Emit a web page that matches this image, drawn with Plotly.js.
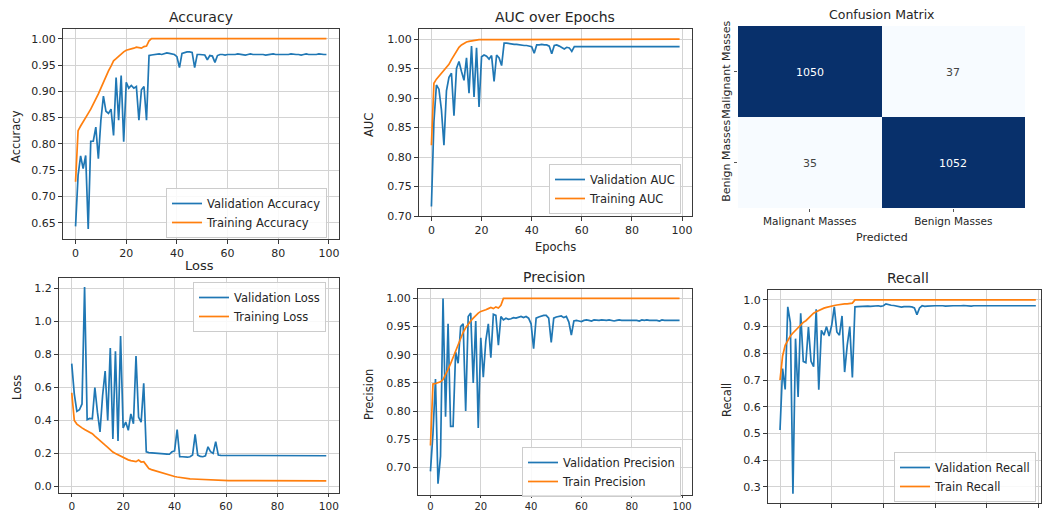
<!DOCTYPE html>
<html>
<head>
<meta charset="utf-8">
<script src="https://cdn.plot.ly/plotly-3.0.1.min.js"></script>
<style>html,body{margin:0;padding:0;background:#fff;}#chart{width:1043px;height:513px;}</style>
</head>
<body>
<div id="chart"></div>
<script>
// ---------- DATA ----------
const epochs = Array.from({length: 100}, (_, i) => i);

const accVal = [0.643,0.740,0.777,0.753,0.778,0.638,0.805,0.805,0.832,0.772,
  0.845,0.891,0.862,0.858,0.866,0.816,0.926,0.845,0.930,0.804,
  0.917,0.906,0.911,0.906,0.909,0.845,0.903,0.909,0.845,0.968,
  0.969,0.970,0.971,0.971,0.970,0.972,0.973,0.972,0.971,0.970,
  0.966,0.945,0.972,0.974,0.975,0.975,0.974,0.945,0.970,0.970,
  0.970,0.969,0.960,0.968,0.967,0.955,0.968,0.970,0.970,0.969,
  0.970,0.970,0.969,0.970,0.971,0.970,0.970,0.969,0.970,0.971,
  0.970,0.970,0.971,0.970,0.970,0.969,0.970,0.970,0.971,0.970,
  0.970,0.970,0.969,0.970,0.970,0.971,0.970,0.970,0.970,0.969,
  0.970,0.971,0.970,0.970,0.969,0.970,0.971,0.970,0.970,0.970];
const accTrain = [0.728,0.825,0.834,0.843,0.851,0.858,0.866,0.875,0.885,0.895,
  0.906,0.918,0.929,0.939,0.948,0.958,0.962,0.967,0.971,0.975,
  0.978,0.979,0.980,0.982,0.984,0.983,0.982,0.985,0.986,0.996,
  1.000,1.000,1.000,1.000,1.000,1.000,1.000,1.000,1.000,1.000,
  1.000,1.000,1.000,1.000,1.000,1.000,1.000,1.000,1.000,1.000,
  1.000,1.000,1.000,1.000,1.000,1.000,1.000,1.000,1.000,1.000,
  1.000,1.000,1.000,1.000,1.000,1.000,1.000,1.000,1.000,1.000,
  1.000,1.000,1.000,1.000,1.000,1.000,1.000,1.000,1.000,1.000,
  1.000,1.000,1.000,1.000,1.000,1.000,1.000,1.000,1.000,1.000,
  1.000,1.000,1.000,1.000,1.000,1.000,1.000,1.000,1.000,1.000];

const aucVal = [0.716,0.860,0.922,0.915,0.880,0.820,0.912,0.935,0.942,0.870,
  0.950,0.962,0.945,0.930,0.968,0.908,0.988,0.902,0.985,0.885,
  0.970,0.973,0.971,0.966,0.972,0.928,0.973,0.968,0.955,0.993,
  0.993,0.992,0.992,0.991,0.991,0.990,0.990,0.989,0.989,0.988,
  0.987,0.976,0.990,0.990,0.991,0.990,0.990,0.988,0.975,0.989,
  0.990,0.988,0.985,0.983,0.986,0.985,0.979,0.987,0.987,0.987,
  0.987,0.987,0.987,0.987,0.986,0.987,0.986,0.987,0.987,0.987,
  0.987,0.987,0.986,0.987,0.987,0.987,0.987,0.986,0.987,0.987,
  0.987,0.987,0.987,0.987,0.987,0.986,0.987,0.987,0.987,0.987,
  0.987,0.987,0.987,0.986,0.987,0.987,0.987,0.987,0.987,0.987];
const aucTrain = [0.820,0.925,0.932,0.937,0.942,0.947,0.952,0.957,0.965,0.972,
  0.980,0.986,0.990,0.993,0.995,0.996,0.997,0.998,0.998,0.999,
  0.999,0.999,0.999,0.999,0.999,0.999,0.999,0.999,0.999,1.000,
  1.000,1.000,1.000,1.000,1.000,1.000,1.000,1.000,1.000,1.000,
  1.000,1.000,1.000,1.000,1.000,1.000,1.000,1.000,1.000,1.000,
  1.000,1.000,1.000,1.000,1.000,1.000,1.000,1.000,1.000,1.000,
  1.000,1.000,1.000,1.000,1.000,1.000,1.000,1.000,1.000,1.000,
  1.000,1.000,1.000,1.000,1.000,1.000,1.000,1.000,1.000,1.000,
  1.000,1.000,1.000,1.000,1.000,1.000,1.000,1.000,1.000,1.000,
  1.000,1.000,1.000,1.000,1.000,1.000,1.000,1.000,1.000,1.000];

const lossVal = [0.745,0.560,0.455,0.465,0.500,1.210,0.405,0.412,0.410,0.600,
  0.450,0.330,0.550,0.700,0.400,0.840,0.288,0.820,0.275,0.912,
  0.355,0.390,0.340,0.440,0.380,0.790,0.420,0.390,0.625,0.210,
  0.205,0.203,0.202,0.200,0.200,0.198,0.197,0.196,0.195,0.210,
  0.215,0.345,0.180,0.180,0.178,0.177,0.180,0.190,0.315,0.190,
  0.182,0.180,0.185,0.240,0.210,0.200,0.272,0.190,0.188,0.188,
  0.188,0.187,0.188,0.189,0.188,0.187,0.188,0.189,0.188,0.188,
  0.187,0.188,0.189,0.188,0.187,0.188,0.188,0.189,0.188,0.187,
  0.188,0.188,0.189,0.188,0.187,0.188,0.188,0.189,0.188,0.187,
  0.188,0.188,0.187,0.189,0.188,0.187,0.188,0.188,0.187,0.186];
const lossTrain = [0.568,0.400,0.378,0.365,0.355,0.345,0.337,0.330,0.320,0.305,
  0.290,0.275,0.262,0.250,0.237,0.222,0.208,0.200,0.192,0.182,
  0.172,0.166,0.161,0.156,0.152,0.150,0.160,0.148,0.150,0.125,
  0.108,0.102,0.097,0.092,0.087,0.082,0.077,0.072,0.068,0.064,
  0.060,0.057,0.054,0.052,0.050,0.048,0.046,0.045,0.044,0.043,
  0.042,0.041,0.040,0.039,0.039,0.038,0.037,0.037,0.036,0.036,
  0.035,0.035,0.035,0.035,0.034,0.034,0.034,0.034,0.034,0.034,
  0.034,0.034,0.034,0.033,0.033,0.033,0.033,0.033,0.033,0.033,
  0.033,0.033,0.033,0.033,0.033,0.033,0.033,0.033,0.033,0.033,
  0.033,0.033,0.033,0.033,0.033,0.033,0.033,0.033,0.033,0.033];

const precVal = [0.693,0.760,0.857,0.671,0.720,1.000,0.790,0.955,0.773,0.773,
  0.905,0.885,0.950,0.955,0.800,0.968,0.974,0.850,0.960,0.770,
  0.930,0.860,0.925,0.955,0.895,0.972,0.970,0.917,0.968,0.962,
  0.965,0.963,0.964,0.966,0.965,0.967,0.968,0.966,0.968,0.965,
  0.955,0.911,0.965,0.967,0.969,0.970,0.970,0.965,0.922,0.965,
  0.967,0.968,0.969,0.966,0.968,0.958,0.935,0.960,0.961,0.960,
  0.959,0.961,0.962,0.961,0.960,0.962,0.961,0.961,0.962,0.961,
  0.961,0.962,0.961,0.960,0.961,0.962,0.961,0.961,0.962,0.961,
  0.961,0.962,0.961,0.960,0.962,0.961,0.962,0.961,0.961,0.962,
  0.961,0.960,0.962,0.961,0.961,0.962,0.961,0.961,0.962,0.961];
const precTrain = [0.739,0.848,0.849,0.850,0.852,0.856,0.864,0.874,0.884,0.895,
  0.905,0.918,0.930,0.940,0.948,0.955,0.960,0.965,0.970,0.974,
  0.977,0.978,0.980,0.982,0.984,0.982,0.985,0.983,0.988,1.000,
  1.000,1.000,1.000,1.000,1.000,1.000,1.000,1.000,1.000,1.000,
  1.000,1.000,1.000,1.000,1.000,1.000,1.000,1.000,1.000,1.000,
  1.000,1.000,1.000,1.000,1.000,1.000,1.000,1.000,1.000,1.000,
  1.000,1.000,1.000,1.000,1.000,1.000,1.000,1.000,1.000,1.000,
  1.000,1.000,1.000,1.000,1.000,1.000,1.000,1.000,1.000,1.000,
  1.000,1.000,1.000,1.000,1.000,1.000,1.000,1.000,1.000,1.000,
  1.000,1.000,1.000,1.000,1.000,1.000,1.000,1.000,1.000,1.000];

const recVal = [0.513,0.743,0.665,0.974,0.915,0.275,0.855,0.637,0.950,0.770,
  0.765,0.898,0.770,0.750,0.965,0.664,0.886,0.868,0.900,0.865,
  0.905,0.974,0.880,0.868,0.940,0.730,0.830,0.900,0.710,0.974,
  0.975,0.976,0.975,0.976,0.977,0.976,0.977,0.976,0.978,0.976,
  0.978,0.985,0.982,0.980,0.979,0.977,0.975,0.973,0.975,0.976,
  0.975,0.974,0.970,0.945,0.970,0.978,0.976,0.977,0.978,0.979,
  0.978,0.978,0.979,0.978,0.977,0.978,0.979,0.978,0.978,0.977,
  0.978,0.979,0.978,0.978,0.977,0.978,0.979,0.978,0.978,0.978,
  0.979,0.978,0.977,0.978,0.978,0.979,0.978,0.978,0.977,0.978,
  0.978,0.979,0.978,0.977,0.978,0.978,0.979,0.978,0.978,0.978];
const recTrain = [0.700,0.790,0.830,0.850,0.865,0.876,0.886,0.896,0.906,0.916,
  0.922,0.932,0.942,0.950,0.956,0.961,0.965,0.969,0.972,0.975,
  0.977,0.979,0.981,0.983,0.984,0.985,0.985,0.986,0.988,1.000,
  1.000,1.000,1.000,1.000,1.000,1.000,1.000,1.000,1.000,1.000,
  1.000,1.000,1.000,1.000,1.000,1.000,1.000,1.000,1.000,1.000,
  1.000,1.000,1.000,1.000,1.000,1.000,1.000,1.000,1.000,1.000,
  1.000,1.000,1.000,1.000,1.000,1.000,1.000,1.000,1.000,1.000,
  1.000,1.000,1.000,1.000,1.000,1.000,1.000,1.000,1.000,1.000,
  1.000,1.000,1.000,1.000,1.000,1.000,1.000,1.000,1.000,1.000,
  1.000,1.000,1.000,1.000,1.000,1.000,1.000,1.000,1.000,1.000];

const cmLabels = ['Malignant Masses', 'Benign Masses'];
const cmValues = [[1050, 37], [35, 1052]];
const xTicks = [0, 20, 40, 60, 80, 100];

// ---------- LAYOUT HELPERS ----------
const W = 1043, H = 513;
const BLUE = '#1f77b4', ORANGE = '#ff7f0e';
const FONT = 'DejaVu Sans, sans-serif';
const TXT = '#262626';
const px = x => x / W;
const py = y => 1 - y / H;

function lineAxis(x0, x1, range, extra) {
  return Object.assign({
    domain: [px(x0), px(x1)], range: range, autorange: false,
    showline: true, mirror: true, linecolor: '#3a3a3a', linewidth: 1,
    ticks: 'outside', ticklen: 4, tickcolor: '#3a3a3a', tickwidth: 1,
    showgrid: true, gridcolor: '#d3d3d3', gridwidth: 1, zeroline: false,
    tickfont: {family: FONT, size: 11, color: TXT}, fixedrange: true
  }, extra || {});
}

function pair(y1, y2, n1, n2, xa, ya, lg) {
  return [
    {x: epochs, y: y1, name: n1, type: 'scatter', mode: 'lines', xaxis: xa, yaxis: ya, legend: lg,
     line: {color: BLUE, width: 1.7}},
    {x: epochs, y: y2, name: n2, type: 'scatter', mode: 'lines', xaxis: xa, yaxis: ya, legend: lg,
     line: {color: ORANGE, width: 1.7}}
  ];
}

const traces = [].concat(
  pair(accVal, accTrain, 'Validation Accuracy', 'Training Accuracy', 'x', 'y', 'legend'),
  pair(aucVal, aucTrain, 'Validation AUC', 'Training AUC', 'x2', 'y2', 'legend2'),
  pair(lossVal, lossTrain, 'Validation Loss', 'Training Loss', 'x4', 'y4', 'legend4'),
  pair(precVal, precTrain, 'Validation Precision', 'Train Precision', 'x5', 'y5', 'legend5'),
  pair(recVal, recTrain, 'Validation Recall', 'Train Recall', 'x6', 'y6', 'legend6'),
  [{
    type: 'heatmap', z: cmValues, x: cmLabels, y: cmLabels, xaxis: 'x3', yaxis: 'y3',
    colorscale: [[0, '#f7fbff'], [1, '#08306b']], showscale: false,
    texttemplate: '%{z}', textfont: {family: FONT, size: 11}, showlegend: false,
    hoverinfo: 'skip'
  }]
);

function legendAt(x, y) {
  return {x: px(x), y: py(y), xanchor: 'left', yanchor: 'top',
    bgcolor: 'rgba(255,255,255,0.85)', bordercolor: '#cccccc', borderwidth: 1,
    font: {family: FONT, size: 11.5, color: TXT}, itemwidth: 30, tracegroupgap: 0};
}

function ann(text, x, y, size, angle) {
  return {text: text, x: px(x), y: py(y), xref: 'paper', yref: 'paper', showarrow: false,
    xanchor: 'center', yanchor: 'middle', textangle: angle || 0,
    font: {family: FONT, size: size, color: TXT}};
}

const layout = {
  width: W, height: H, margin: {l: 0, r: 0, t: 0, b: 0},
  paper_bgcolor: '#ffffff', plot_bgcolor: '#ffffff', showlegend: true,
  font: {family: FONT, color: TXT},
  xaxis: lineAxis(63, 339, [-4.95, 103.95], {anchor: 'y', tickvals: xTicks}),
  yaxis: Object.assign(lineAxis(0, 0, [0.619, 1.0185], {anchor: 'x', dtick: 0.05, tick0: 0, tickformat: '.2f'}), {domain: [py(239), py(29)]}),
  xaxis2: lineAxis(419, 692, [-4.95, 103.95], {anchor: 'y2', tickvals: xTicks}),
  yaxis2: Object.assign(lineAxis(0, 0, [0.700, 1.017], {anchor: 'x2', dtick: 0.05, tick0: 0, tickformat: '.2f'}), {domain: [py(216), py(29)]}),
  xaxis4: lineAxis(59, 339, [-4.95, 103.95], {anchor: 'y4', tickvals: xTicks, ticklen: 3,
    tickfont: {family: FONT, size: 10.5, color: TXT}}),
  yaxis4: Object.assign(lineAxis(0, 0, [-0.040, 1.264], {anchor: 'x4', dtick: 0.2, tick0: 0, tickformat: '.1f'}), {domain: [py(493), py(278)]}),
  xaxis5: lineAxis(418, 692, [-4.95, 103.95], {anchor: 'y5', tickvals: xTicks, ticklen: 2,
    tickfont: {family: FONT, size: 10, color: TXT}}),
  yaxis5: Object.assign(lineAxis(0, 0, [0.651, 1.0168], {anchor: 'x5', dtick: 0.05, tick0: 0, tickformat: '.2f'}), {domain: [py(495), py(289)]}),
  xaxis6: lineAxis(768, 1041, [-4.65, 101.0], {anchor: 'y6', tickvals: xTicks, showticklabels: false}),
  yaxis6: Object.assign(lineAxis(0, 0, [0.240, 1.037], {anchor: 'x6', dtick: 0.1, tick0: 0, tickformat: '.1f'}), {domain: [py(503), py(290)]}),
  xaxis3: {domain: [px(738), px(1025)], anchor: 'y3', type: 'category', showgrid: false, zeroline: false,
    showline: false, ticks: 'outside', ticklen: 3, tickcolor: '#555',
    tickfont: {family: FONT, size: 10.5, color: TXT}, fixedrange: true},
  yaxis3: {domain: [py(208), py(26)], anchor: 'x3', type: 'category', autorange: 'reversed',
    showgrid: false, zeroline: false, showline: false, ticks: 'outside', ticklen: 3, tickcolor: '#555',
    tickangle: -90, tickfont: {family: FONT, size: 11, color: TXT}, fixedrange: true},
  legend: legendAt(166, 188),
  legend2: legendAt(549, 164),
  legend4: legendAt(193, 282),
  legend5: legendAt(522, 447),
  legend6: legendAt(894, 452),
  annotations: [
    ann('Accuracy', 201, 17, 14),
    ann('AUC over Epochs', 555, 17, 14),
    ann('Confusion Matrix', 882, 14, 12.5),
    ann('Loss', 199, 265, 13),
    ann('Precision', 554, 277, 14),
    ann('Recall', 908, 278, 14),
    ann('Accuracy', 16, 137, 11.5, -90),
    ann('AUC', 369, 125, 11.5, -90),
    ann('Loss', 17, 388, 11.5, -90),
    ann('Precision', 369, 395, 11.5, -90),
    ann('Recall', 727, 400, 11.5, -90),
    ann('Epochs', 555, 247, 11.5),
    ann('Predicted', 882, 237, 11)
  ]
};

Plotly.newPlot('chart', traces, layout, {staticPlot: true, displayModeBar: false});
</script>
</body>
</html>
